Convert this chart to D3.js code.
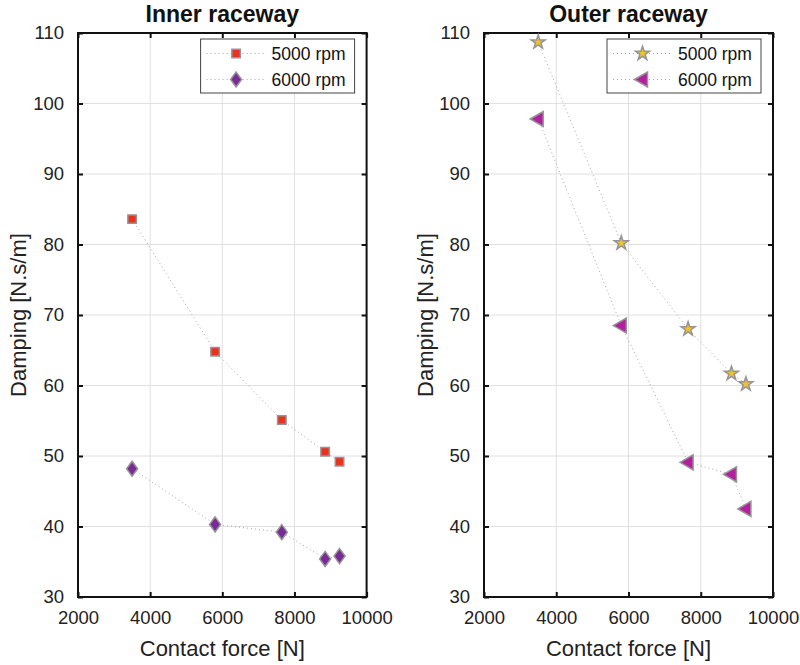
<!DOCTYPE html>
<html>
<head>
<meta charset="utf-8">
<script src="https://cdn.jsdelivr.net/npm/d3@7"></script>
<style>
body { margin: 0; background: #fff; }
svg { font-family: "Liberation Sans", Arial, sans-serif; }
</style>
</head>
<body>
<div id="chart"></div>
<script>
// contact force for each point (same for all series)
const force = [3500, 5800, 7650, 8850, 9250];

const innerRpm5000 = [83.6, 64.8, 55.1, 50.6, 49.2];
const innerRpm6000 = [48.2, 40.3, 39.2, 35.4, 35.8];
const outerRpm5000 = [108.7, 80.2, 68.0, 61.7, 60.2];
const outerRpm6000 = [97.8, 68.5, 49.1, 47.4, 42.5];

const xTicks = [2000, 4000, 6000, 8000, 10000];
const yTicks = [30, 40, 50, 60, 70, 80, 90, 100, 110];
const seriesNames = ["5000 rpm", "6000 rpm"];

const W = 800, H = 665;

const svg = d3.select("#chart").append("svg")
    .attr("width", W)
    .attr("height", H);

const panels = [
    {
        title: "Inner raceway",
        left: 78, right: 366.6, labelX: 18,
        series: [
            {name: seriesNames[0], values: innerRpm5000, shape: "square", fill: "#e8321e"},
            {name: seriesNames[1], values: innerRpm6000, shape: "diamond", fill: "#7a2a96"}
        ]
    },
    {
        title: "Outer raceway",
        left: 484, right: 773, labelX: 425,
        series: [
            {name: seriesNames[0], values: outerRpm5000, shape: "star", fill: "#f2c12e"},
            {name: seriesNames[1], values: outerRpm6000, shape: "triangle", fill: "#b41fa0"}
        ]
    }
];

const plotTop = 33, plotBottom = 597;

function markerPath(shape) {
    if (shape === "square") return d3.symbol(d3.symbolSquare, 72)();
    if (shape === "diamond") return "M0,-7.5L5.5,0L0,7.5L-5.5,0Z";
    if (shape === "star") return d3.symbol(d3.symbolStar, 60)();
    if (shape === "triangle") return "M-8,0L5,-7.5L5,7.5Z";
}

panels.forEach(p => {

    const x = d3.scaleLinear().domain([2000, 10000]).range([p.left, p.right]);
    const y = d3.scaleLinear().domain([30, 110]).range([plotBottom, plotTop]);

    const g = svg.append("g");

    // grid
    g.selectAll(".gx").data(xTicks.slice(1, -1)).enter().append("line")
        .attr("x1", d => x(d)).attr("x2", d => x(d))
        .attr("y1", plotTop).attr("y2", plotBottom)
        .attr("stroke", "#e0e0e0").attr("stroke-width", 1);
    g.selectAll(".gy").data(yTicks.slice(1, -1)).enter().append("line")
        .attr("x1", p.left).attr("x2", p.right)
        .attr("y1", d => y(d)).attr("y2", d => y(d))
        .attr("stroke", "#e0e0e0").attr("stroke-width", 1);

    // axes, ticks inward
    const fmt = d3.format("d");
    const xAxis = d3.axisBottom(x).tickValues(xTicks).tickFormat(fmt)
        .tickSizeInner(-5).tickSizeOuter(0).tickPadding(14);
    const yAxis = d3.axisLeft(y).tickValues(yTicks).tickFormat(fmt)
        .tickSizeInner(-5).tickSizeOuter(0).tickPadding(14);

    g.append("g").attr("transform", `translate(0,${plotBottom})`).call(xAxis);
    g.append("g").attr("transform", `translate(${p.left},0)`).call(yAxis);
    g.append("g").attr("transform", `translate(0,${plotTop})`)
        .call(d3.axisTop(x).tickValues(xTicks).tickSizeInner(-5).tickSizeOuter(0).tickFormat(""));
    g.append("g").attr("transform", `translate(${p.right},0)`)
        .call(d3.axisRight(y).tickValues(yTicks).tickSizeInner(-5).tickSizeOuter(0).tickFormat(""));

    g.selectAll(".domain").remove();
    g.selectAll(".tick line").attr("stroke", "#111").attr("stroke-width", 2);
    g.selectAll(".tick text").attr("font-size", 18.5).attr("fill", "#222");

    g.append("rect")
        .attr("x", p.left).attr("y", plotTop)
        .attr("width", p.right - p.left).attr("height", plotBottom - plotTop)
        .attr("fill", "none").attr("stroke", "#111").attr("stroke-width", 2);

    // labels
    g.append("text")
        .attr("x", (p.left + p.right) / 2).attr("y", 22)
        .attr("text-anchor", "middle").attr("font-size", 23).attr("font-weight", "bold")
        .attr("fill", "#111")
        .text(p.title);

    g.append("text")
        .attr("x", (p.left + p.right) / 2).attr("y", 656)
        .attr("text-anchor", "middle").attr("font-size", 22).attr("fill", "#222")
        .text("Contact force [N]");

    g.append("text")
        .attr("transform", `translate(${p.labelX + 8},${(plotTop + plotBottom) / 2}) rotate(-90)`)
        .attr("text-anchor", "middle").attr("font-size", 22).attr("fill", "#222")
        .text("Damping [N.s/m]");

    const line = d3.line().x((d, i) => x(force[i])).y(d => y(d));

    p.series.forEach(s => {
        g.append("path")
            .datum(s.values)
            .attr("d", line)
            .attr("fill", "none")
            .attr("stroke", "#a6a6a6")
            .attr("stroke-width", 1)
            .attr("stroke-dasharray", "1,3");

        g.selectAll(null).data(s.values).enter().append("path")
            .attr("transform", (d, i) => `translate(${x(force[i])},${y(d)})`)
            .attr("d", markerPath(s.shape))
            .attr("fill", s.fill)
            .attr("stroke", "#959595")
            .attr("stroke-width", 1.5);
    });

    // legend
    const lx = p.right - 166, ly = 39;
    const leg = g.append("g").attr("transform", `translate(${lx},${ly})`);
    leg.append("rect")
        .attr("width", 154).attr("height", 54)
        .attr("fill", "#fff").attr("stroke", "#444").attr("stroke-width", 1);

    p.series.forEach((s, i) => {
        const cy = 14.5 + i * 26;
        leg.append("line")
            .attr("x1", 6).attr("x2", 65).attr("y1", cy).attr("y2", cy)
            .attr("stroke", "#a6a6a6").attr("stroke-width", 1).attr("stroke-dasharray", "1,3");
        leg.append("path")
            .attr("transform", `translate(35.5,${cy})`)
            .attr("d", markerPath(s.shape))
            .attr("fill", s.fill).attr("stroke", "#959595").attr("stroke-width", 1.5);
        leg.append("text")
            .attr("x", 71).attr("y", cy + 6.5)
            .attr("font-size", 17.5).attr("fill", "#111")
            .text(s.name);
    });
});
</script>
</body>
</html>
